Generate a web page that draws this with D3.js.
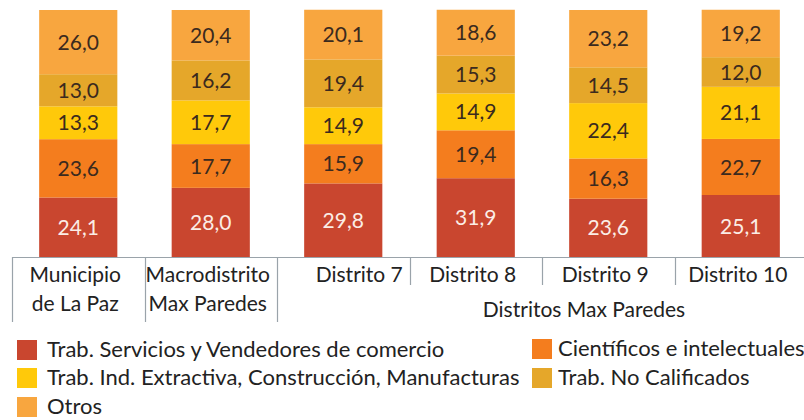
<!DOCTYPE html>
<html lang="es">
<head>
<meta charset="UTF-8">
<title>Ocupaciones Max Paredes</title>
<script src="https://d3js.org/d3.v7.min.js"></script>
<style>
  body { margin: 0; background: #fff; }
  text { font-family: Lato, "Open Sans", sans-serif; }
</style>
</head>
<body>
<div id="chart"></div>
<script>
const width = 804;
const height = 420;

// categories (two-line labels split by "|")
const categories = ["Municipio|de La Paz", "Macrodistrito|Max Paredes", "Distrito 7", "Distrito 8", "Distrito 9", "Distrito 10"];
const groupLabel = "Distritos Max Paredes";

const seriesNames = [
  "Trab. Servicios y Vendedores de comercio",
  "Científicos e intelectuales",
  "Trab. Ind. Extractiva, Construcción, Manufacturas",
  "Trab. No Calificados",
  "Otros"
];
const colors = ["#C9462F", "#F47D1E", "#FFC90A", "#E5A72A", "#F8A63F"];

// values per series, one per category
const servicios   = [24.1, 28.0, 29.8, 31.9, 23.6, 25.1];
const cientificos = [23.6, 17.7, 15.9, 19.4, 16.3, 22.7];
const industria   = [13.3, 17.7, 14.9, 14.9, 22.4, 21.1];
const noCalif     = [13.0, 16.2, 19.4, 15.3, 14.5, 12.0];
const otros       = [26.0, 20.4, 20.1, 18.6, 23.2, 19.2];

const series = [servicios, cientificos, industria, noCalif, otros];

const svg = d3.select("#chart").append("svg")
  .attr("width", width)
  .attr("height", height);

const baseY = 257;
const x = d3.scaleBand()
  .domain(categories)
  .range([12, 807])
  .paddingInner(0.41)
  .paddingOuter(0.205);

const xStep = d3.scaleBand().domain(categories).range([12, 807]);

const y = d3.scaleLinear().domain([0, 100]).range([baseY, 10]);

// stack data
const rows = categories.map((c, i) => {
  const r = { cat: c };
  series.forEach((s, k) => { r["s" + k] = s[i]; });
  return r;
});
const keys = series.map((s, k) => "s" + k);
const stacked = d3.stack().keys(keys)(rows);

const layers = svg.selectAll("g.layer")
  .data(stacked)
  .join("g")
  .attr("class", "layer")
  .attr("fill", (d, k) => colors[k]);

layers.selectAll("rect")
  .data(d => d)
  .join("rect")
  .attr("x", d => x(d.data.cat))
  .attr("width", x.bandwidth())
  .attr("y", d => y(d[1]))
  .attr("height", d => y(d[0]) - y(d[1]));

layers.selectAll("text")
  .data((d, k) => d.map(v => ({ v: v, k: k })))
  .join("text")
  .attr("x", d => x(d.v.data.cat) + x.bandwidth() / 2)
  .attr("y", d => (y(d.v[0]) + y(d.v[1])) / 2)
  .attr("dy", "0.36em")
  .attr("text-anchor", "middle")
  .attr("font-size", 21)
  .attr("fill", d => d.k === 0 ? "#FBEDE6" : "#3B2A1E")
  .text(d => d3.format(".1f")(d.v[1] - d.v[0]).replace(".", ","));

// axis
const axisColor = "#9AA3AA";
svg.append("line")
  .attr("x1", 12).attr("x2", width)
  .attr("y1", baseY + 0.5).attr("y2", baseY + 0.5)
  .attr("stroke", axisColor).attr("stroke-width", 1.2);

categories.forEach((c, i) => {
  const x0 = Math.round(xStep(c)) + 0.5;
  svg.append("line")
    .attr("x1", x0).attr("x2", x0)
    .attr("y1", baseY).attr("y2", i <= 2 ? 322 : 285)
    .attr("stroke", axisColor).attr("stroke-width", 1.2);
});

const catLabels = svg.selectAll("text.cat")
  .data(categories)
  .join("text")
  .attr("class", "cat")
  .attr("x", (d, i) => xStep(d) + xStep.bandwidth() / 2 + (i === 2 ? 16 : -3))
  .attr("y", 282)
  .attr("text-anchor", "middle")
  .attr("font-size", 21)
  .attr("fill", "#222");

catLabels.each(function (d) {
  const parts = d.split("|");
  d3.select(this).selectAll("tspan")
    .data(parts)
    .join("tspan")
    .attr("x", d3.select(this).attr("x"))
    .attr("dy", (p, j) => j === 0 ? 0 : 29)
    .text(p => p);
});

svg.append("text")
  .attr("x", 584)
  .attr("y", 317)
  .attr("text-anchor", "middle")
  .attr("font-size", 21)
  .attr("fill", "#222")
  .text(groupLabel);

// legend
const legendPos = [[17, 340], [532, 339], [17, 368], [532, 368], [17, 397]];
const legend = svg.selectAll("g.legend")
  .data(seriesNames)
  .join("g")
  .attr("class", "legend")
  .attr("transform", (d, i) => `translate(${legendPos[i][0]},${legendPos[i][1]})`);

legend.append("rect")
  .attr("width", 20)
  .attr("height", 20)
  .attr("fill", (d, i) => colors[i]);

legend.append("text")
  .attr("x", (d, i) => i % 2 === 1 ? 26 : 30)
  .attr("y", 17)
  .attr("font-size", 22)
  .attr("fill", "#222")
  .text(d => d);
</script>
</body>
</html>
